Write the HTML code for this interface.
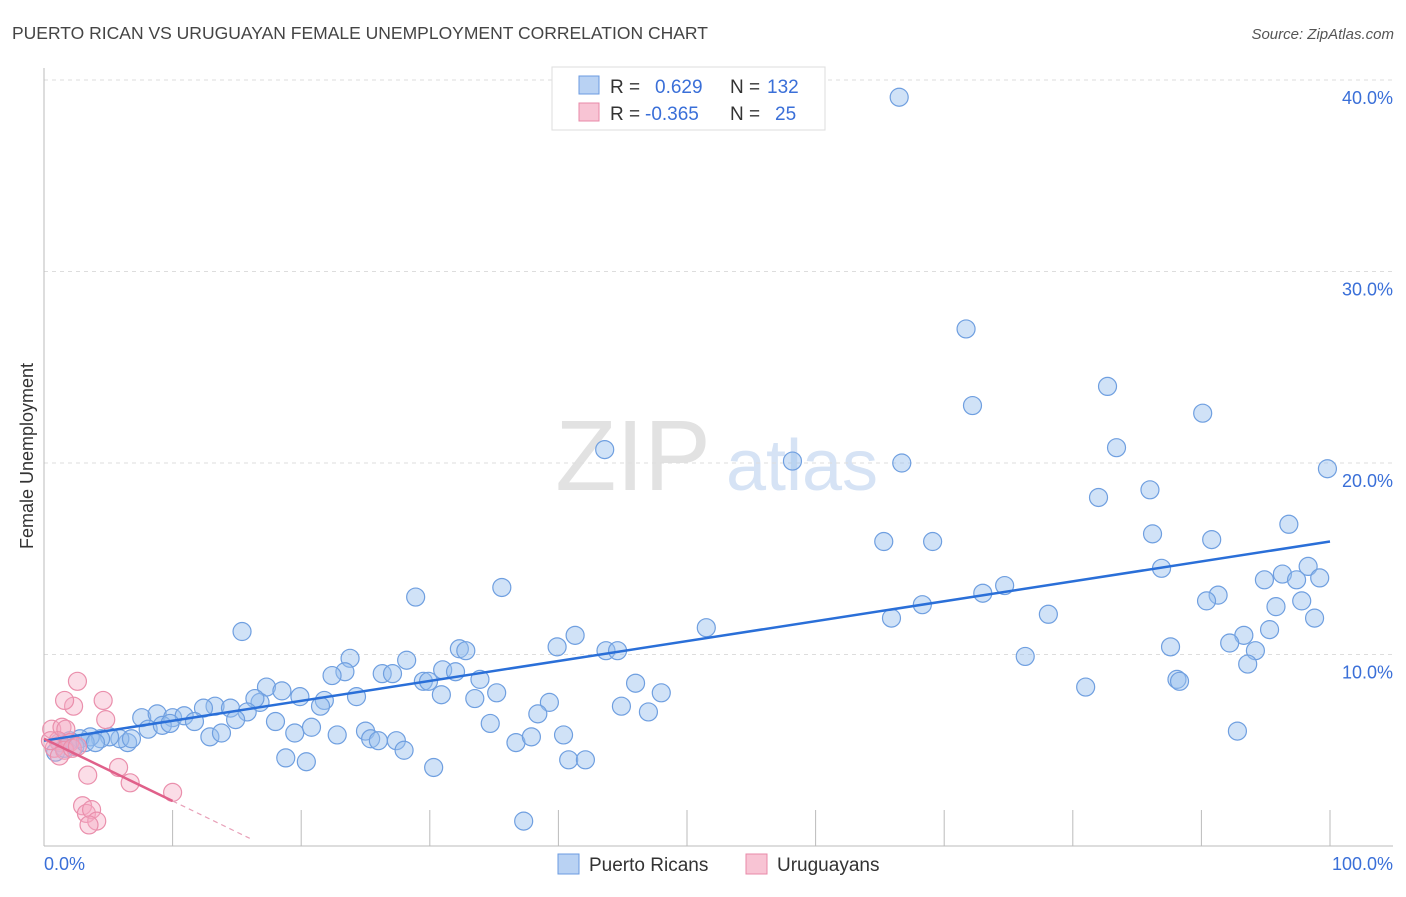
<!DOCTYPE html>
<html><head><meta charset="utf-8"><style>
body{margin:0;background:#fff;font-family:"Liberation Sans",sans-serif}
svg text{font-family:"Liberation Sans",sans-serif}
</style></head><body>
<svg id="chart" width="1406" height="892">
<text x="12" y="39" font-size="17.5" fill="#444">PUERTO RICAN VS URUGUAYAN FEMALE UNEMPLOYMENT CORRELATION CHART</text>
<text x="1394" y="39" font-size="15" fill="#555" font-style="italic" text-anchor="end">Source: ZipAtlas.com</text>
<g>
<text x="633" y="490" font-size="100" fill="#e2e2e2" text-anchor="middle" font-family="Liberation Serif,serif">ZIP</text>
<text x="802" y="490" font-size="72" fill="#d6e3f5" text-anchor="middle">atlas</text>
</g>
<g id="grid"></g><g id="axes"></g><g id="pts"></g><g id="lines"></g>
<text transform="translate(33,456) rotate(-90)" font-size="18" fill="#333" text-anchor="middle">Female Unemployment</text>
<g>
<rect x="552" y="67" width="273" height="63" fill="#fff" stroke="#ddd"/>
<rect x="579" y="76" width="20" height="18" fill="#b9d2f3" stroke="#6b9be0"/>
<rect x="579" y="103" width="20" height="18" fill="#f8c4d4" stroke="#e88aa8"/>
<text x="610" y="93" font-size="19" fill="#333">R = </text><text x="655" y="93" font-size="19" fill="#3a6fd8">0.629</text>
<text x="730" y="93" font-size="19" fill="#333">N = </text><text x="767" y="93" font-size="19" fill="#3a6fd8">132</text>
<text x="610" y="120" font-size="19" fill="#333">R = </text><text x="645" y="120" font-size="19" fill="#3a6fd8">-0.365</text>
<text x="730" y="120" font-size="19" fill="#333">N = </text><text x="775" y="120" font-size="19" fill="#3a6fd8">25</text>
</g>
<g>
<rect x="558" y="854" width="21" height="20" fill="#b9d2f3" stroke="#6b9be0"/>
<text x="589" y="871" font-size="19" fill="#333">Puerto Ricans</text>
<rect x="746" y="854" width="21" height="20" fill="#f8c4d4" stroke="#e88aa8"/>
<text x="777" y="871" font-size="19" fill="#333">Uruguayans</text>
</g>
<text x="44" y="870" font-size="18" fill="#3a6fd8">0.0%</text>
<text x="1393" y="870" font-size="18" fill="#3a6fd8" text-anchor="end">100.0%</text>
</svg>
<script>
const yTicks=[10,20,30,40];
const xTicks=[0,10,20,30,40,50,60,70,80,90,100];
const blueX=[66.5,71.7,72.2,82.7,90.1,83.4,99.8,58.2,66.7,43.6,82.0,86.0,96.8,86.2,90.8,65.3,69.1,98.3,86.9,96.3,94.9,97.4,99.2,74.7,73.0,91.3,90.4,68.3,97.8,95.8,78.1,65.9,98.8,35.6,28.9,15.4,51.5,41.3,39.9,43.7,44.6,93.3,92.2,87.6,95.3,94.2,76.3,93.6,32.3,32.8,23.8,28.2,23.4,22.4,26.3,27.1,31.0,32.0,33.9,29.5,29.9,81.0,88.1,88.3,46.0,17.3,18.5,19.9,21.8,24.3,30.9,35.2,33.5,39.3,44.9,48.0,47.0,38.4,21.5,13.3,14.5,16.8,16.4,15.8,12.4,7.6,8.8,10.0,10.9,11.7,8.1,9.2,9.8,14.9,18.0,34.7,19.5,20.8,22.8,25.0,25.4,26.0,27.4,12.9,13.8,36.7,37.9,40.4,92.8,28.0,18.8,20.4,30.3,40.8,42.1,37.3,6.5,5.9,5.1,4.4,3.6,2.8,2.0,1.2,0.9,1.6,2.4,3.2,4.0,6.8];
const blueY=[39.1,27.0,23.0,24.0,22.6,20.8,19.7,20.1,20.0,20.7,18.2,18.6,16.8,16.3,16.0,15.9,15.9,14.6,14.5,14.2,13.9,13.9,14.0,13.6,13.2,13.1,12.8,12.6,12.8,12.5,12.1,11.9,11.9,13.5,13.0,11.2,11.4,11.0,10.4,10.2,10.2,11.0,10.6,10.4,11.3,10.2,9.9,9.5,10.3,10.2,9.8,9.7,9.1,8.9,9.0,9.0,9.2,9.1,8.7,8.6,8.6,8.3,8.7,8.6,8.5,8.3,8.1,7.8,7.6,7.8,7.9,8.0,7.7,7.5,7.3,8.0,7.0,6.9,7.3,7.3,7.2,7.5,7.7,7.0,7.2,6.7,6.9,6.7,6.8,6.5,6.1,6.3,6.4,6.6,6.5,6.4,5.9,6.2,5.8,6.0,5.6,5.5,5.5,5.7,5.9,5.4,5.7,5.8,6.0,5.0,4.6,4.4,4.1,4.5,4.5,1.3,5.4,5.6,5.7,5.6,5.7,5.6,5.5,5.4,4.9,5.1,5.2,5.4,5.4,5.6];
const pinkX=[2.6,2.3,1.6,4.6,4.8,0.6,1.4,1.7,1.1,0.8,2.0,1.6,1.2,2.2,2.6,5.8,6.7,3.4,3.0,3.3,3.7,4.1,3.5,10.0,0.5];
const pinkY=[8.6,7.3,7.6,7.6,6.6,6.1,6.2,6.1,5.5,5.1,5.4,5.0,4.7,5.1,5.2,4.1,3.3,3.7,2.1,1.7,1.9,1.3,1.1,2.8,5.5];
const blueTrend=[5.5,15.9];
const pinkTrend=[5.6,2.35];
const pinkSolidEnd=10, pinkDashEnd=16;
const NS="http://www.w3.org/2000/svg";
const X=v=>44+v*12.86, Y=v=>846-v*19.15;
function mk(tag,attrs,parent){const e=document.createElementNS(NS,tag);for(const k in attrs)e.setAttribute(k,attrs[k]);document.getElementById(parent).appendChild(e);return e;}
yTicks.forEach(t=>{
 const l=mk('line',{x1:44,x2:1393,y1:Y(t),y2:Y(t),stroke:'#ddd','stroke-dasharray':'4,4'},'grid');
 
 
 const tx=mk('text',{x:1393,y:Y(t)+24,'font-size':18,fill:'#3a6fd8','text-anchor':'end'},'grid');
 tx.textContent=t.toFixed(1)+'%';
 
 
});
const ya=mk('line',{x1:44,x2:44,y1:68,y2:846,stroke:'#bbb'},'axes');


const xa=mk('line',{x1:44,x2:1393,y1:846,y2:846,stroke:'#bbb'},'axes');


xTicks.forEach(t=>{
 const l=mk('line',{x1:X(t),x2:X(t),y1:810,y2:846,stroke:'#bbb'},'axes');
 
 
});
blueX.forEach((v,i)=>{
 const c=mk('circle',{cx:X(v),cy:Y(blueY[i]),r:9,fill:'rgba(150,190,238,0.45)',stroke:'#6f9fe0','stroke-width':1.2},'pts');
 
 
});
pinkX.forEach((v,i)=>{
 const c=mk('circle',{cx:X(v),cy:Y(pinkY[i]),r:9,fill:'rgba(245,170,196,0.4)',stroke:'#ea8fac','stroke-width':1.2},'pts');
 
 
});
const bl=mk('line',{x1:X(0),y1:Y(blueTrend[0]),x2:X(100),y2:Y(blueTrend[1]),stroke:'#2a6fd8','stroke-width':2.5},'lines');


const pv=x=>pinkTrend[0]+(pinkTrend[1]-pinkTrend[0])*x/pinkSolidEnd;
const pl=mk('line',{x1:X(0),y1:Y(pinkTrend[0]),x2:X(pinkSolidEnd),y2:Y(pinkTrend[1]),stroke:'#e0608a','stroke-width':2.5},'lines');


const pd=mk('line',{x1:X(pinkSolidEnd),y1:Y(pinkTrend[1]),x2:X(pinkDashEnd),y2:Y(pv(pinkDashEnd)),stroke:'#e8a0b8','stroke-width':1.2,'stroke-dasharray':'5,4'},'lines');


</script>
</body></html>
